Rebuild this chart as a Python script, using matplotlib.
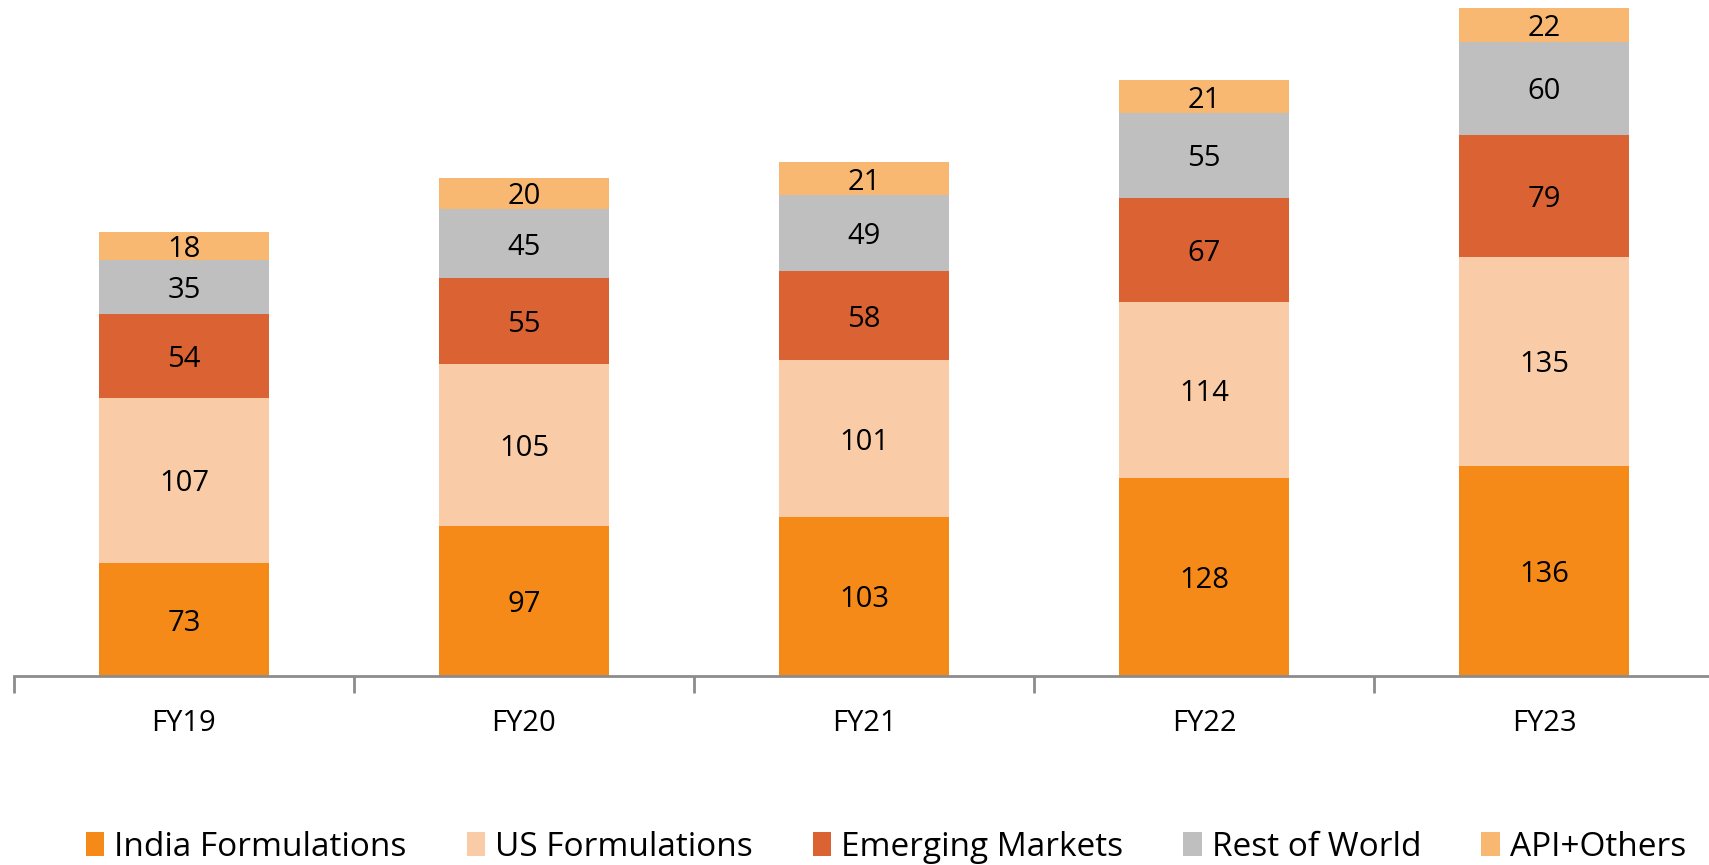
import matplotlib
matplotlib.use("Agg")
import matplotlib.pyplot as plt
import numpy as np

plt.rcParams['font.family'] = ['Open Sans', 'DejaVu Sans']

years = ["FY19", "FY20", "FY21", "FY22", "FY23"]
india_formulations = [73, 97, 103, 128, 136]
us_formulations = [107, 105, 101, 114, 135]
emerging_markets = [54, 55, 58, 67, 79]
rest_of_world = [35, 45, 49, 55, 60]
api_others = [18, 20, 21, 21, 22]

series = [
    ("India Formulations", india_formulations, "#F58A19"),
    ("US Formulations", us_formulations, "#F9CBA7"),
    ("Emerging Markets", emerging_markets, "#DB6232"),
    ("Rest of World", rest_of_world, "#BFBFBF"),
    ("API+Others", api_others, "#F9B872"),
]

W, H = 1709, 865
fig = plt.figure(figsize=(W / 100, H / 100), dpi=100)
ax = fig.add_axes([14 / W, 1 - 676 / H, 1700 / W, 676 / H])

x = np.arange(len(years))
bottom = np.zeros(len(years))
for name, vals, color in series:
    vals = np.array(vals, dtype=float)
    ax.bar(x, vals, width=0.5, bottom=bottom, color=color, label=name,
           edgecolor="none")
    for xi, b, v in zip(x, bottom, vals):
        ax.text(xi, b + v / 2, f"{int(v)}", ha="center",
                va="center_baseline", fontsize=21, color="black")
    bottom += vals

ax.set_xlim(-0.5, len(years) - 0.5)
ax.set_ylim(0, 437)
ax.set_yticks([])
for s in ("top", "right", "left"):
    ax.spines[s].set_visible(False)
ax.spines["bottom"].set_color("#8C8C8C")
ax.spines["bottom"].set_linewidth(2)

# category labels centred on bars, tick marks on the boundaries
ax.set_xticks(x)
ax.set_xticklabels(years, fontsize=21)
ax.tick_params(axis="x", which="major", length=0, pad=24)
ax.set_xticks(np.arange(-0.5, len(years)), minor=True)
ax.tick_params(axis="x", which="minor", length=12, width=2, color="#8C8C8C",
               direction="out")

fig.legend(loc="center", bbox_to_anchor=(886 / W, 1 - 847 / H), ncol=5,
           frameon=False, fontsize=24, handlelength=0.55, handleheight=0.75,
           handletextpad=0.3, columnspacing=1.8, borderpad=0)

fig.savefig("out.png", dpi=100)
